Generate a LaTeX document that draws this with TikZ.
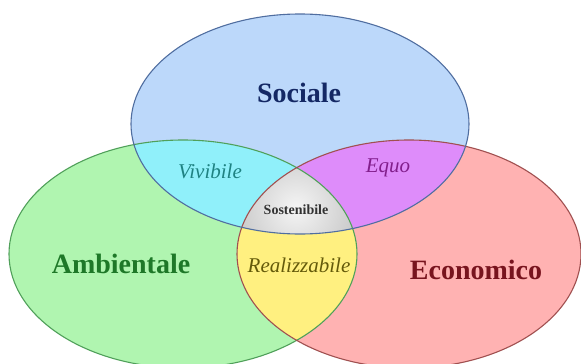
\documentclass[tikz,border=0pt]{standalone}
\usepackage{fontspec}
\setmainfont{Liberation Serif}
\definecolor{sfill}{RGB}{188,216,250}
\definecolor{afill}{RGB}{176,245,176}
\definecolor{efill}{RGB}{255,178,178}
\definecolor{safill}{RGB}{144,240,250}
\definecolor{sefill}{RGB}{222,140,250}
\definecolor{aefill}{RGB}{255,240,128}
\definecolor{sline}{RGB}{80,110,160}
\definecolor{aline}{RGB}{80,160,90}
\definecolor{eline}{RGB}{160,80,80}
\definecolor{stext}{RGB}{20,40,100}
\definecolor{atext}{RGB}{30,120,40}
\definecolor{etext}{RGB}{120,20,30}
\definecolor{vtext}{RGB}{30,130,130}
\definecolor{qtext}{RGB}{130,30,140}
\definecolor{rtext}{RGB}{100,90,10}
\definecolor{ctext}{RGB}{50,50,50}
\tikzset{
  bigword/.style={font=\bfseries\fontsize{28}{30}\selectfont, inner sep=0pt},
  midword/.style={font=\itshape\fontsize{21}{23}\selectfont, inner sep=0pt},
  smallword/.style={font=\bfseries\fontsize{14}{16}\selectfont, inner sep=0pt},
}
\newcommand{\Sell}{(300,124) ellipse [x radius=169pt, y radius=110pt]}
\newcommand{\Aell}{(183,254) ellipse [x radius=174pt, y radius=114pt]}
\newcommand{\Eell}{(409,254) ellipse [x radius=172pt, y radius=114pt]}
\begin{document}
\begin{tikzpicture}[x=1pt,y=-1pt]
\useasboundingbox (0,0) rectangle (581,364);
\fill[white] (0,0) rectangle (581,364);
% base fills
\fill[afill] \Aell;
\fill[efill] \Eell;
\fill[sfill] \Sell;
% pairwise intersections
\begin{scope}
  \clip \Sell;
  \fill[safill] \Aell;
\end{scope}
\begin{scope}
  \clip \Sell;
  \fill[sefill] \Eell;
\end{scope}
\begin{scope}
  \clip \Aell;
  \fill[aefill] \Eell;
\end{scope}
% triple intersection
\begin{scope}
  \clip \Sell;
  \clip \Aell;
  \clip \Eell;
  \shade[inner color=gray!8, outer color=gray!50] (296,208) circle [radius=75pt];
\end{scope}
% outlines
\draw[aline, line width=1.1pt] \Aell;
\draw[eline, line width=1.1pt] \Eell;
\draw[sline, line width=1.1pt] \Sell;
% labels
\node[bigword, text=stext] (soc) at (299,93) {Sociale};
\node[bigword, text=atext] (amb) at (121,264) {Ambientale};
\node[bigword, text=etext] (eco) at (476,270) {Economico};
\node[midword, text=vtext] (viv) at (210,171) {Vivibile};
\node[midword, text=qtext] (equ) at (388,168) {Equo};
\node[midword, text=rtext] (rea) at (299,265) {Realizzabile};
\node[smallword, text=ctext] (sos) at (296,210) {Sostenibile};
\end{tikzpicture}
\end{document}
